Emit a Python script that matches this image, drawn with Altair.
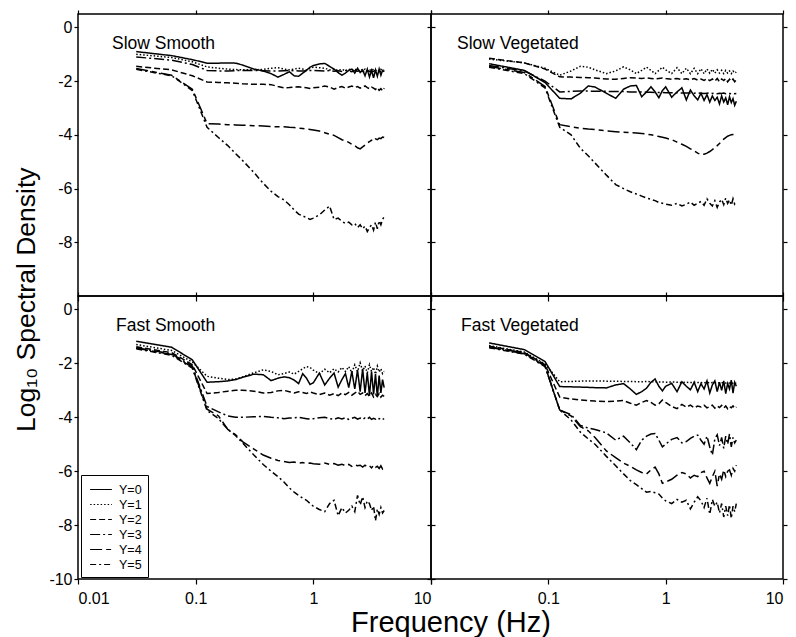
import altair as alt
import pandas as pd

# Frequency grid (Hz)
F = [0.03125, 0.0625, 0.09375, 0.125, 0.15625, 0.1875, 0.21875, 0.25, 0.3125, 0.375,
     0.4375, 0.5, 0.5625, 0.625, 0.6875, 0.75, 0.8125, 0.875, 0.9375, 1.0,
     1.125, 1.25, 1.375, 1.5, 1.625, 1.75, 1.875, 2.0, 2.125, 2.25,
     2.375, 2.5, 2.625, 2.75, 2.875, 3.0, 3.125, 3.25, 3.375, 3.5,
     3.625, 3.75, 3.875, 4.0]

SERIES = ["Y=0", "Y=1", "Y=2", "Y=3", "Y=4", "Y=5"]

# ---- Slow Smooth ----
ss_y0 = [-0.90, -1.05, -1.20, -1.33, -1.33, -1.32, -1.33, -1.40, -1.55, -1.62, -1.72, -1.85, -1.75, -1.65, -1.80, -1.82, -1.70, -1.60, -1.48, -1.42, -1.36, -1.34, -1.45, -1.55, -1.68, -1.78, -1.70, -1.60, -1.55, -1.70, -1.52, -1.68, -1.58, -1.80, -1.55, -1.85, -1.60, -1.88, -1.58, -1.82, -1.55, -1.78, -1.60, -1.65]
ss_y1 = [-1.00, -1.12, -1.28, -1.47, -1.52, -1.55, -1.57, -1.58, -1.58, -1.56, -1.52, -1.50, -1.55, -1.58, -1.55, -1.52, -1.55, -1.58, -1.52, -1.48, -1.50, -1.52, -1.58, -1.55, -1.60, -1.56, -1.62, -1.55, -1.60, -1.54, -1.62, -1.56, -1.60, -1.55, -1.63, -1.57, -1.62, -1.55, -1.60, -1.57, -1.63, -1.56, -1.60, -1.58]
ss_y2 = [-1.45, -1.58, -1.80, -2.03, -2.05, -2.06, -2.08, -2.10, -2.12, -2.12, -2.13, -2.20, -2.25, -2.24, -2.22, -2.21, -2.23, -2.25, -2.27, -2.25, -2.23, -2.18, -2.22, -2.30, -2.24, -2.20, -2.26, -2.22, -2.18, -2.24, -2.20, -2.26, -2.22, -2.18, -2.24, -2.28, -2.22, -2.26, -2.31, -2.24, -2.34, -2.28, -2.36, -2.26]
ss_y3 = [-1.10, -1.22, -1.38, -1.60, -1.62, -1.62, -1.61, -1.60, -1.60, -1.61, -1.62, -1.62, -1.61, -1.60, -1.61, -1.62, -1.62, -1.61, -1.60, -1.60, -1.61, -1.62, -1.60, -1.63, -1.61, -1.64, -1.60, -1.62, -1.65, -1.61, -1.63, -1.60, -1.64, -1.62, -1.60, -1.65, -1.62, -1.64, -1.60, -1.63, -1.62, -1.65, -1.61, -1.63]
ss_y4 = [-1.53, -1.78, -2.30, -3.58, -3.60, -3.62, -3.63, -3.64, -3.66, -3.67, -3.69, -3.70, -3.70, -3.72, -3.73, -3.75, -3.76, -3.78, -3.80, -3.82, -3.86, -3.92, -3.98, -4.02, -4.10, -4.18, -4.22, -4.28, -4.35, -4.40, -4.48, -4.52, -4.45, -4.38, -4.30, -4.25, -4.20, -4.24, -4.15, -4.18, -4.12, -4.14, -4.08, -4.10]
ss_y5 = [-1.56, -1.80, -2.35, -3.72, -4.10, -4.40, -4.70, -4.95, -5.40, -5.80, -6.10, -6.30, -6.42, -6.60, -6.80, -6.95, -7.02, -7.08, -7.15, -7.10, -6.98, -6.80, -6.65, -7.15, -7.10, -7.22, -7.30, -7.25, -7.35, -7.30, -7.45, -7.35, -7.50, -7.40, -7.60, -7.45, -7.35, -7.55, -7.25, -7.50, -7.20, -7.35, -7.15, -7.05]

# ---- Slow Vegetated ----
sv_y0 = [-1.35, -1.60, -2.05, -2.64, -2.66, -2.45, -2.18, -2.22, -2.45, -2.64, -2.30, -2.18, -2.16, -2.58, -2.40, -2.21, -2.40, -2.62, -2.35, -2.21, -2.60, -2.40, -2.25, -2.70, -2.33, -2.55, -2.70, -2.45, -2.72, -2.50, -2.78, -2.55, -2.72, -2.60, -2.85, -2.55, -2.78, -2.62, -2.88, -2.58, -2.80, -2.65, -2.90, -2.75]
sv_y1 = [-1.18, -1.32, -1.52, -1.78, -1.62, -1.45, -1.48, -1.58, -1.72, -1.62, -1.47, -1.58, -1.72, -1.60, -1.48, -1.60, -1.72, -1.60, -1.48, -1.58, -1.72, -1.50, -1.72, -1.52, -1.72, -1.52, -1.72, -1.54, -1.72, -1.55, -1.70, -1.56, -1.70, -1.58, -1.70, -1.60, -1.72, -1.60, -1.70, -1.62, -1.72, -1.62, -1.70, -1.66]
sv_y2 = [-1.15, -1.32, -1.55, -1.84, -1.85, -1.86, -1.87, -1.88, -1.92, -1.93, -1.90, -1.87, -1.88, -1.90, -1.88, -1.90, -1.92, -1.90, -1.88, -1.90, -1.93, -1.90, -1.94, -1.91, -1.95, -1.90, -1.96, -1.92, -1.97, -1.91, -1.98, -1.92, -2.00, -1.90, -2.02, -1.92, -1.98, -1.90, -2.03, -1.93, -2.00, -1.92, -2.02, -1.96]
sv_y3 = [-1.42, -1.62, -2.00, -2.40, -2.38, -2.37, -2.37, -2.38, -2.38, -2.39, -2.39, -2.40, -2.40, -2.40, -2.41, -2.41, -2.42, -2.42, -2.42, -2.43, -2.43, -2.43, -2.44, -2.44, -2.44, -2.45, -2.44, -2.45, -2.46, -2.45, -2.44, -2.46, -2.45, -2.47, -2.45, -2.46, -2.44, -2.47, -2.45, -2.46, -2.47, -2.45, -2.47, -2.46]
sv_y4 = [-1.45, -1.68, -2.20, -3.62, -3.70, -3.75, -3.78, -3.80, -3.85, -3.88, -3.90, -3.92, -3.93, -3.95, -3.97, -4.00, -4.03, -4.06, -4.09, -4.12, -4.18, -4.27, -4.35, -4.43, -4.52, -4.60, -4.68, -4.74, -4.72, -4.68, -4.62, -4.55, -4.48, -4.40, -4.32, -4.24, -4.16, -4.10, -4.05, -4.02, -4.00, -3.99, -3.98, -3.97]
sv_y5 = [-1.48, -1.72, -2.25, -3.72, -4.00, -4.50, -4.78, -5.05, -5.50, -5.85, -6.00, -6.12, -6.20, -6.28, -6.35, -6.40, -6.45, -6.52, -6.55, -6.58, -6.62, -6.55, -6.65, -6.58, -6.50, -6.62, -6.55, -6.48, -6.62, -6.38, -6.55, -6.65, -6.45, -6.70, -6.50, -6.40, -6.60, -6.35, -6.55, -6.42, -6.62, -6.38, -6.58, -6.50]

# ---- Fast Smooth ----
fs_y0 = [-1.18, -1.40, -1.87, -2.70, -2.68, -2.65, -2.60, -2.52, -2.40, -2.42, -2.64, -2.55, -2.50, -2.53, -2.62, -2.75, -2.38, -2.55, -2.78, -2.72, -2.36, -2.80, -2.55, -2.36, -2.88, -2.60, -2.38, -2.90, -2.30, -2.95, -2.25, -3.05, -2.20, -3.10, -2.35, -3.20, -2.30, -3.15, -2.40, -3.25, -2.45, -3.10, -2.60, -2.90]
fs_y1 = [-1.30, -1.52, -1.95, -2.48, -2.55, -2.60, -2.58, -2.50, -2.35, -2.24, -2.30, -2.42, -2.38, -2.32, -2.40, -2.30, -2.20, -2.12, -2.15, -2.25, -2.38, -2.22, -2.35, -2.20, -2.32, -2.15, -2.30, -2.12, -2.35, -2.05, -2.30, -1.98, -2.28, -2.10, -2.35, -2.05, -2.30, -2.15, -2.40, -2.10, -2.32, -2.20, -2.38, -2.30]
fs_y2 = [-1.38, -1.60, -2.05, -3.12, -3.08, -3.03, -3.00, -3.00, -3.03, -3.10, -3.08, -3.02, -3.00, -3.05, -3.10, -3.05, -3.08, -3.12, -3.06, -3.10, -3.16, -3.10, -3.18, -3.12, -3.20, -3.10, -3.16, -3.08, -3.18, -3.10, -3.04, -3.15, -3.10, -3.20, -3.12, -3.22, -3.10, -3.25, -3.15, -3.22, -3.12, -3.25, -3.18, -3.22]
fs_y3 = [-1.42, -1.65, -2.10, -3.60, -3.80, -3.95, -4.00, -4.00, -3.98, -3.97, -4.00, -4.02, -4.05, -4.03, -4.02, -4.00, -4.03, -4.05, -4.07, -4.05, -4.02, -4.00, -4.05, -4.08, -4.02, -4.06, -4.02, -4.08, -4.04, -4.00, -4.07, -4.03, -4.08, -4.02, -4.06, -4.00, -4.08, -4.04, -4.07, -4.02, -4.06, -4.03, -4.08, -4.05]
fs_y4 = [-1.44, -1.67, -2.15, -3.70, -3.95, -4.45, -4.65, -4.90, -5.18, -5.40, -5.52, -5.60, -5.64, -5.68, -5.66, -5.70, -5.68, -5.72, -5.70, -5.72, -5.74, -5.70, -5.75, -5.72, -5.78, -5.74, -5.80, -5.75, -5.82, -5.76, -5.80, -5.78, -5.85, -5.78, -5.84, -5.80, -5.88, -5.78, -5.86, -5.82, -5.90, -5.80, -5.92, -5.85]
fs_y5 = [-1.46, -1.70, -2.18, -3.75, -4.05, -4.45, -4.68, -4.95, -5.40, -5.75, -6.00, -6.20, -6.40, -6.62, -6.78, -6.90, -7.00, -7.08, -7.20, -7.30, -7.42, -7.50, -7.20, -7.08, -7.65, -7.35, -7.55, -7.45, -7.30, -7.50, -6.90, -7.25, -6.95, -7.35, -7.10, -7.20, -7.45, -7.30, -7.84, -7.40, -7.60, -7.35, -7.55, -7.46]

# ---- Fast Vegetated ----
fv_y0 = [-1.24, -1.49, -1.93, -2.86, -2.87, -2.88, -2.89, -2.90, -2.91, -2.80, -2.75, -2.95, -3.15, -3.05, -2.92, -2.70, -2.58, -2.85, -3.02, -2.85, -2.74, -3.05, -2.68, -2.85, -2.98, -2.70, -3.05, -2.75, -2.95, -2.65, -3.10, -2.80, -2.65, -3.05, -2.70, -3.00, -2.65, -3.12, -2.75, -2.95, -2.62, -3.10, -2.70, -2.85]
fv_y1 = [-1.34, -1.58, -2.02, -2.68, -2.67, -2.66, -2.65, -2.65, -2.66, -2.66, -2.67, -2.67, -2.68, -2.68, -2.67, -2.68, -2.68, -2.69, -2.69, -2.70, -2.69, -2.70, -2.71, -2.70, -2.71, -2.70, -2.71, -2.71, -2.72, -2.70, -2.72, -2.71, -2.72, -2.71, -2.73, -2.72, -2.72, -2.73, -2.72, -2.73, -2.72, -2.74, -2.73, -2.74]
fv_y2 = [-1.36, -1.60, -2.05, -3.25, -3.32, -3.36, -3.38, -3.40, -3.42, -3.40, -3.38, -3.48, -3.55, -3.45, -3.38, -3.45, -3.55, -3.50, -3.36, -3.45, -3.60, -3.68, -3.52, -3.62, -3.55, -3.65, -3.58, -3.62, -3.55, -3.65, -3.60, -3.55, -3.66, -3.58, -3.64, -3.56, -3.66, -3.58, -3.68, -3.60, -3.65, -3.58, -3.67, -3.62]
fv_y3 = [-1.38, -1.62, -2.08, -3.73, -3.90, -4.30, -4.40, -4.45, -4.58, -4.85, -4.70, -4.95, -5.20, -4.85, -4.70, -4.62, -4.60, -4.85, -5.10, -5.00, -4.82, -4.75, -4.95, -4.90, -4.78, -4.70, -4.66, -4.85, -5.00, -4.70, -5.10, -5.40, -4.80, -4.65, -5.05, -4.75, -5.15, -4.70, -5.00, -4.62, -5.10, -4.75, -4.95, -4.85]
fv_y4 = [-1.40, -1.64, -2.10, -3.73, -3.95, -4.35, -4.50, -4.75, -5.25, -5.50, -5.70, -5.82, -5.95, -6.05, -6.10, -5.95, -5.85, -6.10, -6.45, -6.40, -6.30, -6.15, -6.05, -6.10, -6.25, -6.15, -6.20, -6.05, -6.00, -6.25, -6.45, -6.20, -6.00, -6.55, -6.10, -6.30, -5.95, -6.20, -6.00, -5.95, -6.15, -5.90, -6.00, -5.78]
fv_y5 = [-1.42, -1.66, -2.12, -3.73, -4.10, -4.55, -4.80, -5.00, -5.45, -5.80, -6.10, -6.35, -6.50, -6.65, -6.78, -6.75, -6.80, -6.85, -7.00, -7.10, -7.20, -7.05, -7.15, -7.08, -7.40, -7.15, -6.95, -7.10, -7.35, -7.00, -7.60, -7.05, -7.30, -7.15, -7.55, -7.20, -7.70, -7.30, -7.65, -7.25, -7.75, -7.30, -7.50, -7.20]

PANELS = {
    "Slow Smooth": [ss_y0, ss_y1, ss_y2, ss_y3, ss_y4, ss_y5],
    "Slow Vegetated": [sv_y0, sv_y1, sv_y2, sv_y3, sv_y4, sv_y5],
    "Fast Smooth": [fs_y0, fs_y1, fs_y2, fs_y3, fs_y4, fs_y5],
    "Fast Vegetated": [fv_y0, fv_y1, fv_y2, fv_y3, fv_y4, fv_y5],
}

X_TICKS = [0.01, 0.1, 1, 10]
Y_TICKS_TOP = [0, -2, -4, -6, -8]
Y_TICKS_BOTTOM = [0, -2, -4, -6, -8, -10]

FONT = "Liberation Sans"


def panel_df(name):
    rows = []
    for s, vals in zip(SERIES, PANELS[name]):
        if len(vals) != len(F):
            raise ValueError(f"{name} {s}: {len(vals)} values")
        for f, v in zip(F, vals):
            rows.append({"f": f, "v": v, "s": s})
    return pd.DataFrame(rows)


xscale = alt.Scale(type="log", domain=[0.01, 10])
yscale = alt.Scale(domain=[-10, 0.5], nice=False, zero=False)
dash_scale = alt.Scale(
    domain=SERIES,
    range=[[1, 0], [1.5, 2], [6, 3], [10, 3, 2, 3], [12, 4, 5, 4], [6, 3, 2, 3]],
)

label_expr_left = "datum.value < 0.05 ? '0.01' : datum.value < 0.5 ? '0.1' : datum.value < 5 ? '1' : '10'"
label_expr_right = "datum.value < 0.05 ? '' : datum.value < 0.5 ? '0.1' : datum.value < 5 ? '1' : '10'"


def panel(name, label_x, is_left, is_bottom, width, height, legend=False):
    df = panel_df(name)
    yt = Y_TICKS_BOTTOM if is_bottom else Y_TICKS_TOP
    common = dict(grid=False, domain=False, tickColor="black", tickWidth=1.2,
                  labelFont=FONT, labelFontSize=16, labelColor="black", title=None)
    xa = alt.Axis(orient="bottom", values=X_TICKS, labels=is_bottom, tickSize=5,
                  labelPadding=6,
                  labelExpr=label_expr_left if is_left else label_expr_right, **common)
    ya = alt.Axis(orient="left", values=yt, labels=is_left, tickSize=4, labelPadding=2,
                  labelExpr="'' + datum.value", **common)
    xa2 = alt.Axis(orient="top", values=X_TICKS, labels=False, tickSize=4, **common)
    ya2 = alt.Axis(orient="right", values=yt, labels=False, tickSize=4, **common)

    if legend:
        leg = alt.Legend(title=None, orient="none", legendX=3, legendY=179,
                         fillColor="white", strokeColor="black", padding=6,
                         symbolType="M-1.45,0L1.45,0", symbolSize=225,
                         symbolStrokeWidth=1.1, symbolOffset=5.5,
                         symbolStrokeColor="black", labelFont=FONT, labelFontSize=12.5,
                         labelColor="black", rowPadding=0, labelOffset=9.5)
    else:
        leg = None

    lines = alt.Chart(df).mark_line(color="black", strokeWidth=1.5).encode(
        x=alt.X("f:Q", scale=xscale, axis=xa),
        y=alt.Y("v:Q", scale=yscale, axis=ya),
        strokeDash=alt.StrokeDash("s:N", scale=dash_scale, legend=leg),
    )
    ghost = alt.Chart(df).mark_point(opacity=0, size=1).encode(
        x=alt.X("f:Q", scale=xscale, axis=xa2),
        y=alt.Y("v:Q", scale=yscale, axis=ya2),
    )
    text = alt.Chart(pd.DataFrame({"t": [name]})).mark_text(
        align="left", baseline="alphabetic", font=FONT, fontSize=17.5, color="black"
    ).encode(text="t:N", x=alt.value(label_x), y=alt.value(35))

    return alt.layer(lines, ghost, text).resolve_axis(
        x="independent", y="independent"
    ).properties(width=width, height=height)


tl = panel("Slow Smooth", 34, True, False, 353, 282)
tr = panel("Slow Vegetated", 26, False, False, 352, 282)
bl = panel("Fast Smooth", 38, True, True, 353, 283, legend=True)
br = panel("Fast Vegetated", 30, False, True, 352, 283)

grid = alt.concat(
    tl, tr, bl, br, columns=2, spacing=0, bounds="flush",
    title=alt.TitleParams("Log₁₀ Spectral Density", orient="left", anchor="middle",
                          font=FONT, fontSize=26.5, fontWeight="normal", color="black",
                          offset=8, dx=8),
).resolve_scale(strokeDash="independent").resolve_legend(strokeDash="independent")

chart = alt.vconcat(
    grid,
    title=alt.TitleParams("Frequency (Hz)", orient="bottom", anchor="middle",
                          font=FONT, fontSize=29, fontWeight="normal", color="black",
                          offset=2, dx=50),
).properties(
    padding={"left": 13, "top": 8, "right": 4, "bottom": 0}
).configure(
    background="white",
    view=alt.ViewConfig(stroke="black", strokeWidth=1.5),
)

chart.save("out.html", embed_options={"renderer": "svg", "actions": False})
